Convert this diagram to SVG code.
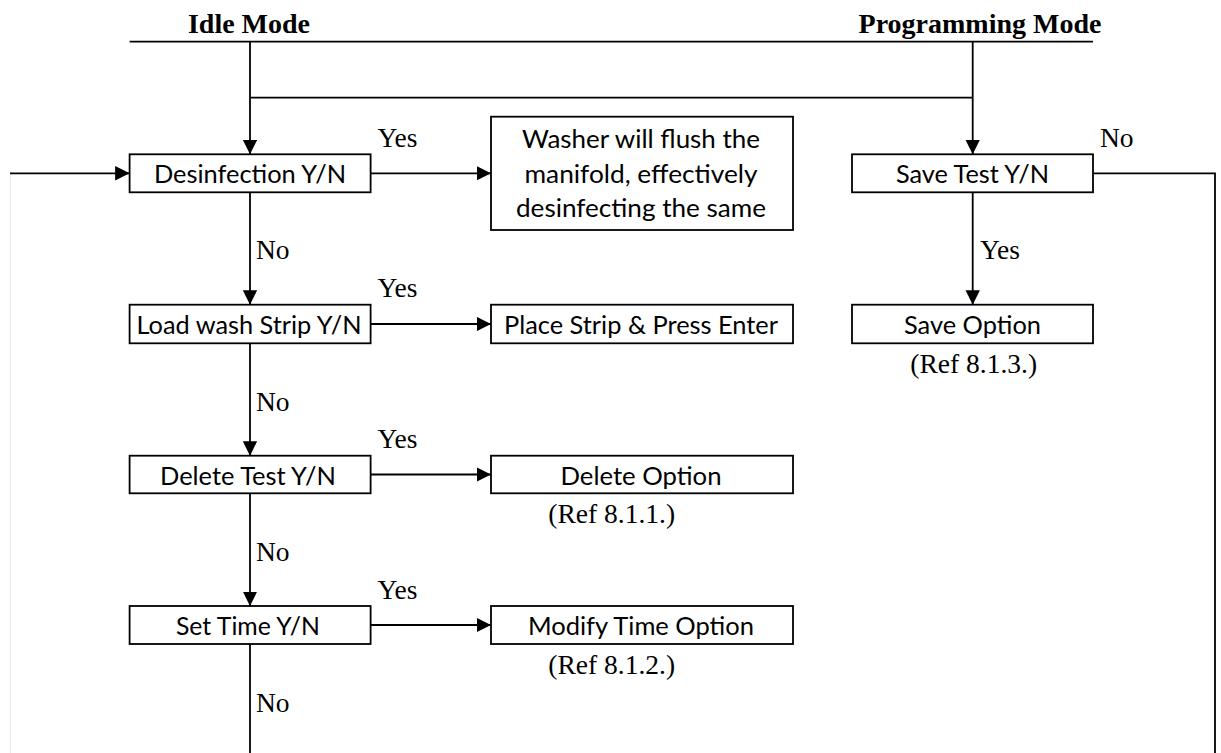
<svg xmlns="http://www.w3.org/2000/svg" width="1221" height="753" viewBox="0 0 1221 753">
<style>
.bg{fill:#fff}
.box{fill:#fff;stroke:#000;stroke-width:1.8}
.c{fill:none;stroke:#000;stroke-width:1.8}
.faint{fill:none;stroke:#ededed;stroke-width:1.2}
.t{font-family:Lato,"Open Sans","Noto Sans",sans-serif;font-size:25.5px;fill:#000;text-anchor:middle}
.s{font-family:"Liberation Serif","Times New Roman",serif;font-size:27.5px;fill:#000}
.m{text-anchor:middle}
.h{font-family:"Liberation Serif","Times New Roman",serif;font-size:28px;font-weight:bold;fill:#000;text-anchor:middle}
</style>
<defs>
<marker id="arr" markerWidth="15" markerHeight="15" refX="14.5" refY="7.2" orient="auto" markerUnits="userSpaceOnUse">
<path d="M0,0 L14.5,7.2 L0,14.4 z" fill="#000"/>
</marker>
</defs>
<rect class="bg" x="0" y="0" width="1221" height="753"/>
<g id="headings">
<text class="h" x="249" y="33.3">Idle Mode</text>
<text class="h" x="980" y="33.3">Programming Mode</text>
</g>
<g id="connectors">
<path class="faint" d="M10.3,174 V753"/>
<path class="c" d="M129.6,41.7 H1093"/>
<path class="c" d="M250,41.7 V154.3" marker-end="url(#arr)"/>
<path class="c" d="M250,97.7 H972.7"/>
<path class="c" d="M972.7,41.7 V154.3" marker-end="url(#arr)"/>
<path class="c" d="M10,173.3 H129.6" marker-end="url(#arr)"/>
<path class="c" d="M370.6,173.3 H491" marker-end="url(#arr)"/>
<path class="c" d="M250,192.3 V304.7" marker-end="url(#arr)"/>
<path class="c" d="M370.6,324 H491" marker-end="url(#arr)"/>
<path class="c" d="M250,343.3 V455.7" marker-end="url(#arr)"/>
<path class="c" d="M370.6,474.5 H491" marker-end="url(#arr)"/>
<path class="c" d="M250,493.3 V606" marker-end="url(#arr)"/>
<path class="c" d="M370.6,625 H491" marker-end="url(#arr)"/>
<path class="c" d="M250,644 V753"/>
<path class="c" d="M972.7,192.3 V304.7" marker-end="url(#arr)"/>
<path class="c" d="M1093,173.3 H1215 V753"/>
<text class="s" x="377.5" y="146.7">Yes</text>
<text class="s" x="377.5" y="296.7">Yes</text>
<text class="s" x="377.5" y="448.3">Yes</text>
<text class="s" x="377.5" y="599.3">Yes</text>
<text class="s" x="256" y="259.3">No</text>
<text class="s" x="256" y="410.7">No</text>
<text class="s" x="256" y="560.7">No</text>
<text class="s" x="256" y="711.7">No</text>
<text class="s" x="1100" y="146.7">No</text>
<text class="s" x="980" y="259.3">Yes</text>
</g>
<g id="desinfection">
<rect class="box" x="129.6" y="154.3" width="241" height="38"/>
<text class="t" x="250" y="183.3" textLength="192" lengthAdjust="spacingAndGlyphs">Desinfection Y/N</text>
</g>
<g id="washer">
<rect class="box" x="491" y="116.7" width="302" height="113.3"/>
<text class="t" x="641" y="148.3" textLength="238" lengthAdjust="spacingAndGlyphs">Washer will flush the</text>
<text class="t" x="641" y="183.3" textLength="233" lengthAdjust="spacingAndGlyphs">manifold, effectively</text>
<text class="t" x="641" y="216.7" textLength="250" lengthAdjust="spacingAndGlyphs">desinfecting the same</text>
</g>
<g id="loadwash">
<rect class="box" x="129.6" y="304.7" width="241" height="38.6"/>
<text class="t" x="249" y="333.5" textLength="225" lengthAdjust="spacingAndGlyphs">Load wash Strip Y/N</text>
</g>
<g id="placestrip">
<rect class="box" x="491" y="304.7" width="302" height="38.6"/>
<text class="t" x="641" y="333.5" textLength="274" lengthAdjust="spacingAndGlyphs">Place Strip &amp; Press Enter</text>
</g>
<g id="deletetest">
<rect class="box" x="129.6" y="455.7" width="241" height="37.6"/>
<text class="t" x="248" y="485" textLength="176" lengthAdjust="spacingAndGlyphs">Delete Test Y/N</text>
</g>
<g id="deleteoption">
<rect class="box" x="491" y="455.7" width="302" height="37.6"/>
<text class="t" x="641" y="485" textLength="161" lengthAdjust="spacingAndGlyphs">Delete Option</text>
<text class="s m" x="611.7" y="522.7">(Ref 8.1.1.)</text>
</g>
<g id="settime">
<rect class="box" x="129.6" y="606" width="241" height="38"/>
<text class="t" x="248" y="635" textLength="144" lengthAdjust="spacingAndGlyphs">Set Time Y/N</text>
</g>
<g id="modifytime">
<rect class="box" x="491" y="606" width="302" height="38"/>
<text class="t" x="641" y="635" textLength="226" lengthAdjust="spacingAndGlyphs">Modify Time Option</text>
<text class="s m" x="611.7" y="674">(Ref 8.1.2.)</text>
</g>
<g id="savetest">
<rect class="box" x="852" y="154.3" width="241" height="38"/>
<text class="t" x="972.5" y="183.3" textLength="153" lengthAdjust="spacingAndGlyphs">Save Test Y/N</text>
</g>
<g id="saveoption">
<rect class="box" x="852" y="304.7" width="241" height="38.6"/>
<text class="t" x="972.5" y="333.5" textLength="137" lengthAdjust="spacingAndGlyphs">Save Option</text>
<text class="s m" x="973.7" y="373.3">(Ref 8.1.3.)</text>
</g>
</svg>
